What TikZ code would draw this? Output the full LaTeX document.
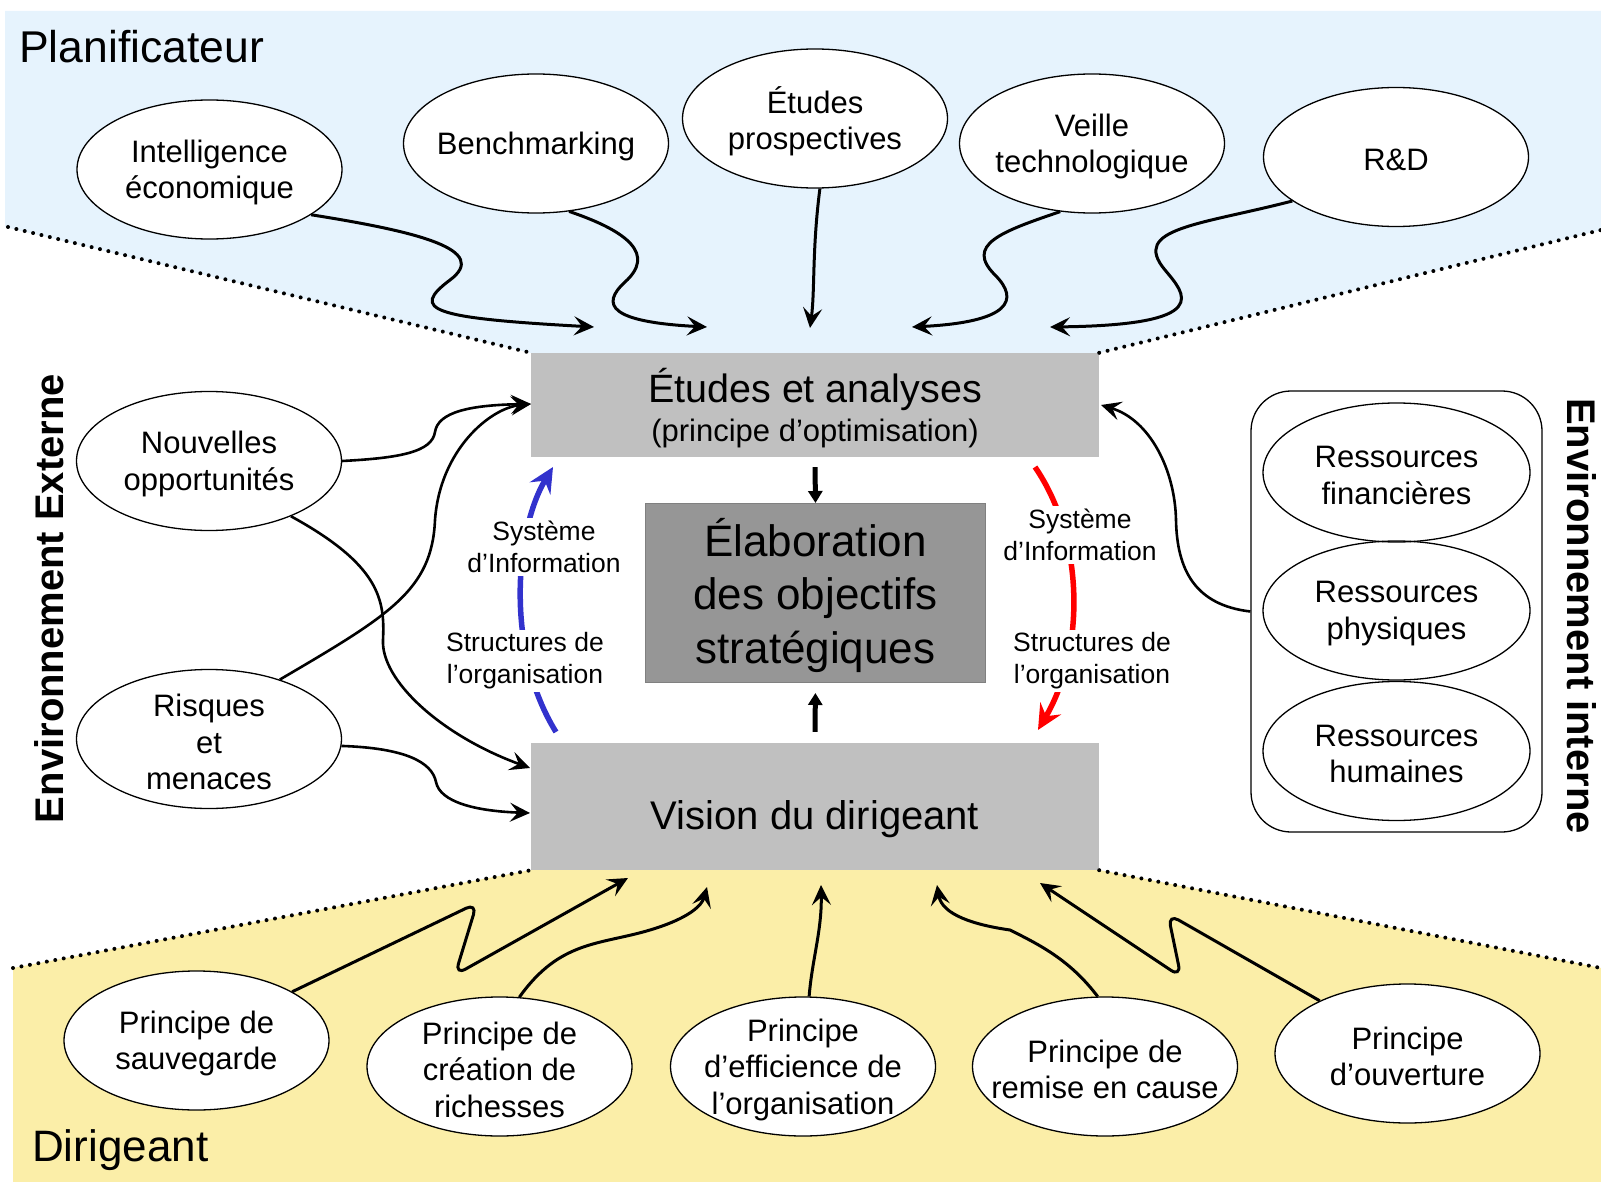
\documentclass[tikz,border=0pt]{standalone}
\usepackage{fontspec}
\setmainfont{Liberation Sans}
\usetikzlibrary{arrows.meta,shapes.geometric,calc}

\definecolor{planbg}{RGB}{230,243,253}
\definecolor{dirbg}{RGB}{251,238,168}
\definecolor{boxgray}{RGB}{192,192,192}
\definecolor{elabgray}{RGB}{150,150,150}
\definecolor{infoblue}{RGB}{50,50,205}
\definecolor{structred}{RGB}{255,0,0}

% an ellipse of fixed size with its text set on top of it
\newcommand{\bubbleat}[3]{%
  \node[bubble] (#1) at (#2) {};
  \node[btext] (#1-t) at (#1) {#3};}

\begin{document}
\begin{tikzpicture}[x=1pt,y=-1pt,
  bubble/.style={ellipse, draw=black, line width=1.3pt, fill=white,
    minimum width=265pt, minimum height=139pt, inner sep=0pt},
  btext/.style={inner sep=0pt, yshift=-3pt, align=center, font=\fontsize{31}{36.5}\selectfont},
  flow/.style={line width=3pt, -{Stealth[length=20pt,width=19pt,inset=8pt]}},
  sideflow/.style={line width=2.6pt, -{Stealth[length=20pt,width=19pt,inset=8pt]}},
  zigzag/.style={flow, rounded corners=12pt},
  border/.style={line width=4pt, line cap=round, dash pattern=on 0pt off 8.6pt},
  lbl/.style={fill=white, inner sep=3pt, align=center, font=\fontsize{26.5}{32}\selectfont},
  loop/.style={line width=5.5pt, -{Stealth[length=25pt,width=24pt,inset=9pt]}},
  core/.style={line width=5pt, -{Triangle[length=12pt,width=14pt]}},
]
\useasboundingbox (0,0) rectangle (1601,1182);

% ---- coloured zones ----
\coordinate (pl-l) at (8,227);
\coordinate (pl-r) at (1601,230);
\coordinate (di-l) at (13,968);
\coordinate (di-r) at (1601,968);
\fill[planbg] (5,11) -- (1601,11) -- (pl-r) -- (1099,353) -- (531,353) -- (5,227) -- cycle;
\fill[dirbg] (di-l) -- (531,870) -- (1099,870) -- (di-r) -- (1601,1182) -- (13,1182) -- cycle;

% ---- central boxes ----
\node[fill=boxgray, minimum width=568pt, minimum height=104pt, inner sep=0pt] (etudes) at (815,405) {};
\node[fill=boxgray, minimum width=568pt, minimum height=127pt, inner sep=0pt] (vision) at (815,806.5) {};
\node[fill=elabgray, draw=gray, line width=1pt, minimum width=340pt, minimum height=179pt,
  inner sep=0pt] (elab) at (815.5,593) {};
\node[inner sep=0pt, align=center, font=\fontsize{44}{53.5}\selectfont] (elab-t) at (815.5,595)
  {Élaboration\\des objectifs\\stratégiques};

\node[anchor=base, inner sep=0pt, font=\fontsize{39.5}{45}\selectfont] (etudes-t1) at (815,402) {Études et analyses};
\node[anchor=base, inner sep=0pt, font=\fontsize{31}{36}\selectfont] (etudes-t2) at (815,441) {(principe d’optimisation)};
\node[anchor=base, inner sep=0pt, font=\fontsize{40}{46}\selectfont] (vision-t) at (815,829) {Vision du dirigeant};

% ---- dotted zone borders ----
\draw[border] (pl-l) -- (etudes.north west);
\draw[border] (etudes.north east) -- (pl-r);
\draw[border] (di-l) -- (vision.south west);
\draw[border] (vision.south east) -- (di-r);

% ---- zone titles ----
\node[anchor=base west, inner sep=0pt, font=\fontsize{44.5}{50}\selectfont] (plan) at (19,63) {Planificateur};
\node[anchor=base west, inner sep=0pt, font=\fontsize{44}{50}\selectfont] (dir) at (32,1161) {Dirigeant};
\node[rotate=90, anchor=base, inner sep=0pt, font=\bfseries\fontsize{40}{46}\selectfont] (extl) at (63,598.5) {Environnement Externe};
\node[rotate=-90, anchor=base, inner sep=0pt, font=\bfseries\fontsize{40}{46}\selectfont] (intl) at (1567,616) {Environnement interne};

% ---- information loops ----
\coordinate (blue-s) at (556,732);
\coordinate (blue-e) at (553,467);
\coordinate (red-s) at (1035,467);
\coordinate (red-e) at (1038,730);
\draw[loop, infoblue] (blue-s) .. controls (505,650) and (515,530) .. (blue-e);
\draw[loop, structred] (red-s) .. controls (1085,540) and (1085,650) .. (red-e);
\node[lbl] (si-l) at (544,547) {Système\\d’Information};
\node[lbl] (so-l) at (525,661) {Structures de\\l’organisation};
\node[lbl] (si-r) at (1080,535) {Système\\d’Information};
\node[lbl] (so-r) at (1092,661) {Structures de\\l’organisation};

% ---- core arrows ----
\draw[core] (etudes.south) ++(0,10) -- (elab.north);
\draw[core, shorten >=10pt] (vision.north) ++(0,-11) -- (elab.south);

% ---- planner sources ----
\bubbleat{ie}{209.5,169.5}{Intelligence\\économique}
\bubbleat{bench}{536,143.5}{Benchmarking}
\bubbleat{etp}{815,118.5}{Études\\prospectives}
\bubbleat{veille}{1092,143.5}{Veille\\technologique}
\bubbleat{rd}{1396,157}{R\&D}

% ---- external environment ----
\bubbleat{nouv}{209,461}{Nouvelles\\opportunités}
\bubbleat{risq}{209,739}{Risques\\et\\menaces}

% ---- manager principles ----
\bubbleat{sauv}{196.5,1040.5}{Principe de\\sauvegarde}
\bubbleat{creat}{499.5,1066.5}{Principe de\\création de\\richesses}
\bubbleat{effic}{803,1066.5}{Principe\\d’efficience de\\l’organisation}
\bubbleat{remise}{1105,1066.5}{Principe de\\remise en cause}
\bubbleat{ouv}{1407.5,1053.5}{Principe\\d’ouverture}

% ---- internal resources ----
\node[draw, rounded corners=40pt, line width=1.3pt, minimum width=291pt, minimum height=441pt,
  inner sep=0pt] (res) at (1396.5,611.5) {};
\node[bubble, fill=none, minimum width=267pt] (fin) at (1396.5,472.5) {};
\node[btext] (fin-t) at (fin) {Ressources\\financières};
\node[bubble, fill=none, minimum width=267pt] (phy) at (1396.5,610.5) {};
\node[btext] (phy-t) at (phy) {Ressources\\physiques};
\node[bubble, fill=none, minimum width=267pt] (hum) at (1396.5,751) {};
\node[btext] (hum-t) at (hum) {Ressources\\humaines};

% ---- arrow targets near the boxes ----
\coordinate (et-1) at (594,327);
\coordinate (et-2) at (707,327);
\coordinate (et-3) at (810,328);
\coordinate (et-4) at (912,327);
\coordinate (et-5) at (1050,327);
\coordinate (et-w) at (531,404);
\coordinate (et-e) at (1101,405);
\coordinate (vi-w1) at (530,768);
\coordinate (vi-w2) at (530,813);
\coordinate (vi-1) at (628,878);
\coordinate (vi-2) at (707,887);
\coordinate (vi-3) at (821,885);
\coordinate (vi-4) at (937,885);
\coordinate (vi-5) at (1040,883);

% ---- planner arrows ----
\draw[flow] (ie.-24) .. controls (420,232) and (490,250) .. (450,280)
  .. controls (410,310) and (430,318) .. (et-1);
\draw[flow] (bench.-64) .. controls (630,232) and (655,255) .. (625,282)
  .. controls (600,305) and (610,322) .. (et-2);
\draw[flow] (etp.-86) .. controls (812,250) and (815,290) .. (et-3);
\draw[flow] (veille.-115) .. controls (1000,232) and (965,245) .. (995,275)
  .. controls (1020,300) and (1010,322) .. (et-4);
\draw[flow] (rd.-157) .. controls (1200,225) and (1130,228) .. (1165,270)
  .. controls (1185,294) and (1215,325) .. (et-5);

% ---- external environment arrows ----
\draw[sideflow] (nouv.east) .. controls (400,458) and (432,452) .. (435,432)
  .. controls (438,412) and (470,405) .. (et-w);
\draw[sideflow] (nouv.-34) .. controls (380,565) and (385,600) .. (383,640)
  .. controls (381,680) and (440,735) .. (vi-w1);
\draw[sideflow] (risq.40) .. controls (390,615) and (432,590) .. (435,520)
  .. controls (440,450) and (490,408) .. (et-w);
\draw[sideflow] (risq.-3) .. controls (405,748) and (432,762) .. (436,782)
  .. controls (440,802) and (475,811) .. (vi-w2);

% ---- internal resources arrow ----
\draw[sideflow] (res.west) .. controls (1195,605) and (1177,570) .. (1176,520)
  .. controls (1175,470) and (1150,420) .. (et-e);

% ---- manager arrows ----
\draw[zigzag] (sauv.27) -- (477,903) -- (455,975) -- (vi-1);
\draw[flow] (creat.74) .. controls (560,940) and (600,945) .. (650,930)
  .. controls (690,918) and (702,905) .. (vi-2);
\draw[flow] (effic.85) .. controls (812,960) and (822,930) .. (vi-3);
\draw[flow] (remise.96) .. controls (1070,960) and (1040,945) .. (1010,930)
  .. controls (975,925) and (942,915) .. (vi-4);
\draw[zigzag] (ouv.149) -- (1168,914) -- (1181,977) -- (vi-5);

\end{tikzpicture}
\end{document}
